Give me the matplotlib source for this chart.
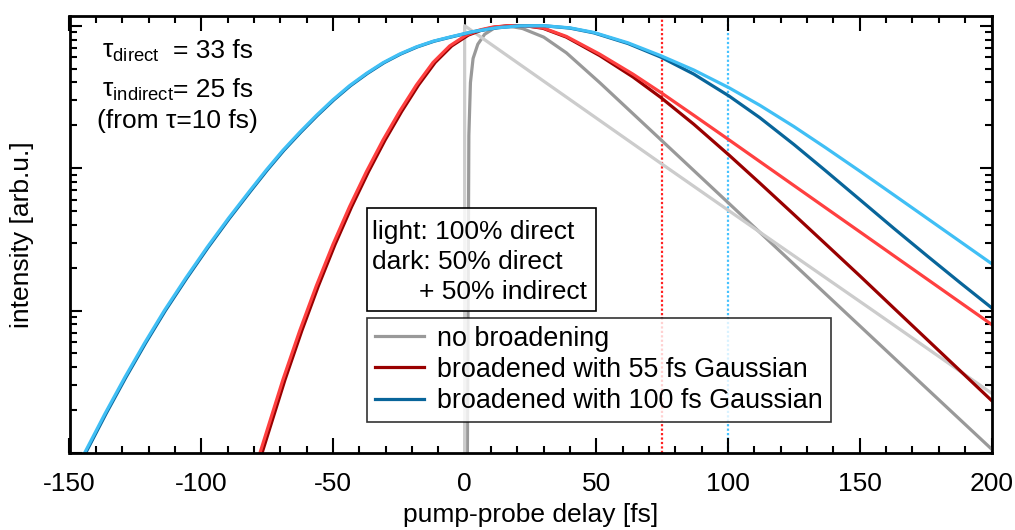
import numpy as np
import matplotlib.pyplot as plt
from matplotlib.ticker import MultipleLocator, LogLocator, NullFormatter
from matplotlib.patches import Rectangle

plt.rcParams['font.family'] = ['Liberation Sans', 'DejaVu Sans']
plt.rcParams['mathtext.fontset'] = 'custom'
plt.rcParams['mathtext.rm'] = 'Liberation Sans'
plt.rcParams['mathtext.it'] = 'Liberation Sans:italic'
plt.rcParams['axes.unicode_minus'] = False

FS = 19

# delay [fs] and log10(intensity), normalised to the maximum
t_grey_dark = [1.0, 1.6, 2.2, 3.2, 5.0, 7.6, 11, 16, 22, 30, 38.6, 51.3, 63.8, 78.5, 100, 122, 145, 172, 200]
log_grey_dark = [-3.2, -0.77, -0.40, -0.23, -0.13, -0.06, -0.02, 0.0, -0.02, -0.08, -0.19, -0.40, -0.616,
                 -0.87, -1.242, -1.623, -2.021, -2.488, -2.972]

t_grey_light = [0, 0, 74, 100.4, 155.8, 200]
log_grey_light = [-3.5, 0.0, -0.96, -1.30, -2.01, -2.58]

t_red_light = [-78.5, -77.2, -69.0, -62.6, -56.3, -50.0, -43.7, -37.3, -31.0, -24.7, -18.3, -12.0, -5.7, 0.6,
               5.7, 10.7, 17, 23, 29.7, 38.6, 51.3, 63.9, 74.4, 87, 100.4, 112, 125, 137, 150.4, 163, 175.7,
               188, 200]
log_red_light = [-3.048, -2.97, -2.486, -2.141, -1.826, -1.536, -1.271, -1.025, -0.803, -0.602, -0.416, -0.258,
                 -0.142, -0.066, -0.030, -0.0095, 0.0, 0.0, -0.015, -0.075, -0.20, -0.34, -0.468, -0.629,
                 -0.802, -0.953, -1.122, -1.278, -1.452, -1.616, -1.781, -1.941, -2.097]

t_red_dark = [-77.7, -76.4, -68.2, -61.8, -55.5, -49.2, -42.9, -36.5, -30.2, -23.9, -17.5, -11.2, -4.9, 1.4,
              6.5, 11.5, 17, 23, 29.7, 38.6, 51.3, 63.9, 74.4, 87, 100.4, 112, 124.6, 137, 150, 163, 175.7,
              188, 200]
log_red_dark = [-3.048, -2.97, -2.486, -2.141, -1.826, -1.536, -1.271, -1.025, -0.803, -0.602, -0.416, -0.258,
                -0.142, -0.066, -0.030, -0.0095, 0.0, 0.0, -0.018, -0.08, -0.21, -0.36, -0.503, -0.692,
                -0.909, -1.104, -1.319, -1.532, -1.756, -1.984, -2.206, -2.421, -2.631]

t_blue_light = [-146, -144, -136.5, -129, -121.5, -114, -105.9, -97.8, -89.7, -81.6, -75.3, -69, -62.6, -56.3,
                -50, -43.7, -37.3, -31, -24.7, -18.4, -12, -5.7, 3.2, 12.2, 21.1, 30, 40, 49, 62, 74.4, 87,
                100.4, 112, 125, 137, 150.4, 163, 175.7, 188, 200]
log_blue_light = [-3.06, -2.99, -2.723, -2.469, -2.228, -2.0, -1.773, -1.557, -1.353, -1.16, -1.013, -0.875,
                  -0.748, -0.63, -0.52, -0.421, -0.335, -0.26, -0.199, -0.149, -0.109, -0.08, -0.041, -0.0145,
                  -0.001, 0.0, -0.015, -0.047, -0.12, -0.21, -0.311, -0.436, -0.558, -0.708, -0.856, -1.026,
                  -1.189, -1.354, -1.514, -1.67]

t_blue_dark = [-145.6, -143.6, -136.1, -128.6, -121.1, -113.6, -105.5, -97.4, -89.3, -81.2, -74.9, -68.6, -62.2,
               -55.9, -49.6, -43.3, -36.9, -30.6, -24.3, -18.0, -11.6, -5.3, 3.6, 12.4, 21.1, 30, 40, 49, 62,
               74.4, 87, 100.4, 112, 125, 137, 150.4, 163, 175.7, 188, 200]
log_blue_dark = [-3.06, -2.99, -2.723, -2.469, -2.228, -2.0, -1.773, -1.557, -1.353, -1.16, -1.013, -0.875,
                 -0.748, -0.63, -0.52, -0.421, -0.335, -0.26, -0.199, -0.149, -0.109, -0.08, -0.041, -0.0145,
                 -0.001, 0.0, -0.017, -0.05, -0.125, -0.22, -0.34, -0.494, -0.645, -0.834, -1.018, -1.227,
                 -1.424, -1.618, -1.803, -1.98]

delay_marks = [75, 100]

fig = plt.figure(figsize=(10.15, 5.30), dpi=100)
ax = fig.add_axes([69.5 / 1015, (530 - 453) / 530, 922 / 1015, 437 / 530])

ax.axvline(delay_marks[0], color='#ff2020', lw=1.6, ls=(0, (1, 1)), zorder=1)
ax.axvline(delay_marks[1], color='#45c2ff', lw=1.6, ls=(0, (1, 1)), zorder=1)

lw = 2.3
ax.semilogy(t_grey_dark, 10.0 ** np.array(log_grey_dark), color='#999999', lw=lw, label='no broadening')
ax.semilogy(t_grey_light, 10.0 ** np.array(log_grey_light), color='#cccccc', lw=lw)
ax.semilogy(t_red_dark, 10.0 ** np.array(log_red_dark), color='#990000', lw=lw,
            label='broadened with 55 fs Gaussian')
ax.semilogy(t_red_light, 10.0 ** np.array(log_red_light), color='#ff4040', lw=lw)
ax.semilogy(t_blue_dark, 10.0 ** np.array(log_blue_dark), color='#08659a', lw=lw,
            label='broadened with 100 fs Gaussian')
ax.semilogy(t_blue_light, 10.0 ** np.array(log_blue_light), color='#40bff5', lw=lw)

ax.set_xlim(-150, 200)
ax.set_ylim(1e-3, 1.17)

ax.xaxis.set_major_locator(MultipleLocator(50))
ax.xaxis.set_minor_locator(MultipleLocator(10))
ax.yaxis.set_major_locator(LogLocator(base=10))
ax.yaxis.set_minor_locator(LogLocator(base=10, subs=np.arange(2, 10)))
ax.yaxis.set_major_formatter(NullFormatter())
ax.yaxis.set_minor_formatter(NullFormatter())
ax.tick_params(which='both', direction='in', top=True, right=True, width=1.5, labelsize=FS)
ax.tick_params(axis='x', which='major', length=10.5, pad=14)
ax.tick_params(axis='y', which='major', length=8.7)
ax.tick_params(which='minor', length=5)
for s in ax.spines.values():
    s.set_linewidth(2)

ax.set_xlabel('pump-probe delay [fs]', fontsize=FS, labelpad=5)
ax.set_ylabel('intensity [arb.u.]', fontsize=FS)
ax.yaxis.set_label_coords(-0.038, 0.5)

# lifetimes
ax.text(0.0352, 0.9037, r'$\mathrm{τ}_{\mathrm{direct}}$', transform=ax.transAxes, fontsize=FS, va='baseline')
ax.text(0.1123, 0.9037, '= 33 fs', transform=ax.transAxes, fontsize=FS, va='baseline')
ax.text(0.0352, 0.8142, r'$\mathrm{τ}_{\mathrm{indirect}}$', transform=ax.transAxes, fontsize=FS, va='baseline')
ax.text(0.1123, 0.8142, '= 25 fs', transform=ax.transAxes, fontsize=FS, va='baseline')
ax.text(0.0298, 0.7431, '(from τ=10 fs)', transform=ax.transAxes, fontsize=FS, va='baseline')

# light / dark key
ax.add_patch(Rectangle((0.3227, 0.3257), 0.2484, 0.2339, transform=ax.transAxes,
                       facecolor=(1, 1, 1, 0.8), edgecolor='black', lw=1.2, zorder=5))
ax.text(0.3286, 0.4908, 'light: 100% direct', transform=ax.transAxes, fontsize=FS, va='baseline', zorder=6)
ax.text(0.3286, 0.4220, 'dark: 50% direct', transform=ax.transAxes, fontsize=FS, va='baseline', zorder=6)
ax.text(0.379, 0.3532, '+ 50% indirect', transform=ax.transAxes, fontsize=FS, va='baseline', zorder=6)

leg = ax.legend(loc='upper left', bbox_to_anchor=(0.3227, 0.3096), borderaxespad=0,
                fontsize=19.4, handlelength=1.8, handletextpad=0.5, labelspacing=0.19,
                borderpad=0.3, fancybox=False, framealpha=0.8, edgecolor='black')
leg.get_frame().set_linewidth(1.2)
leg.set_zorder(6)

fig.savefig('out.png', dpi=100)
